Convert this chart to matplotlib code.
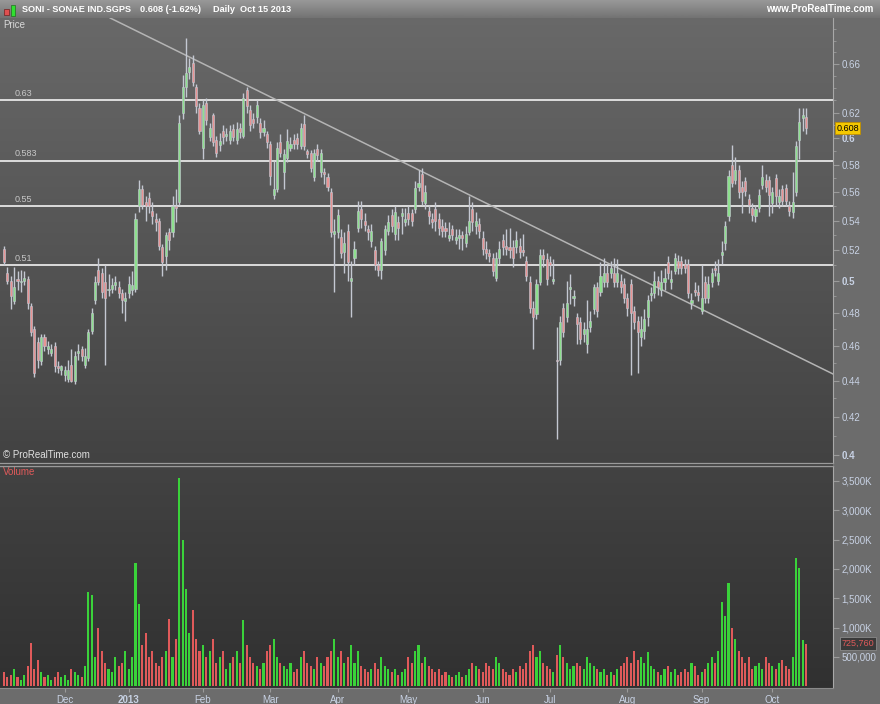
import matplotlib
matplotlib.use("Agg")
import matplotlib.pyplot as plt
import matplotlib.patches as mpatches
import numpy as np
import pandas as pd

plt.rcParams['font.family'] = ['Liberation Sans', 'DejaVu Sans']

# daily OHLC, SONAE IND.SGPS, Nov 7 2012 - Oct 15 2013
opens = [0.521, 0.505, 0.500, 0.487, 0.501, 0.499, 0.500, 0.501, 0.484, 0.470,
         0.462, 0.451, 0.465, 0.458, 0.456, 0.460, 0.448, 0.446, 0.443, 0.441,
         0.449, 0.440, 0.456, 0.458, 0.449, 0.453, 0.469, 0.488, 0.507, 0.505,
         0.499, 0.494, 0.495, 0.497, 0.496, 0.492, 0.487, 0.492, 0.494, 0.495,
         0.550, 0.562, 0.553, 0.556, 0.547, 0.541, 0.540, 0.522, 0.516, 0.532,
         0.532, 0.550, 0.553, 0.620, 0.641, 0.653, 0.661, 0.641, 0.624, 0.593,
         0.628, 0.601, 0.618, 0.599, 0.595, 0.606, 0.602, 0.599, 0.607, 0.599,
         0.608, 0.602, 0.638, 0.622, 0.615, 0.617, 0.612, 0.605, 0.603, 0.596,
         0.558, 0.562, 0.597, 0.575, 0.585, 0.593, 0.599, 0.600, 0.594, 0.611,
         0.590, 0.589, 0.571, 0.592, 0.575, 0.575, 0.571, 0.560, 0.531, 0.532,
         0.529, 0.519, 0.533, 0.500, 0.515, 0.535, 0.548, 0.540, 0.534, 0.526,
         0.520, 0.510, 0.507, 0.520, 0.533, 0.544, 0.531, 0.539, 0.543, 0.539,
         0.545, 0.545, 0.548, 0.564, 0.573, 0.552, 0.547, 0.541, 0.548, 0.541,
         0.536, 0.535, 0.528, 0.534, 0.527, 0.528, 0.530, 0.525, 0.532, 0.548,
         0.536, 0.538, 0.528, 0.521, 0.518, 0.515, 0.502, 0.515, 0.527, 0.523,
         0.522, 0.522, 0.522, 0.523, 0.520, 0.513, 0.499, 0.483, 0.479, 0.499,
         0.517, 0.514, 0.512, 0.500, 0.452, 0.452, 0.483, 0.477, 0.495, 0.489,
         0.477, 0.474, 0.467, 0.461, 0.471, 0.482, 0.496, 0.493, 0.499, 0.505,
         0.505, 0.505, 0.499, 0.500, 0.498, 0.489, 0.498, 0.481, 0.475, 0.465,
         0.469, 0.477, 0.491, 0.492, 0.500, 0.494, 0.499, 0.512, 0.499, 0.506,
         0.513, 0.513, 0.511, 0.511, 0.486, 0.494, 0.493, 0.481, 0.499, 0.489,
         0.499, 0.508, 0.500, 0.517, 0.525, 0.543, 0.580, 0.569, 0.576, 0.564,
         0.568, 0.555, 0.549, 0.543, 0.549, 0.565, 0.569, 0.569, 0.552, 0.570,
         0.553, 0.562, 0.563, 0.550, 0.546, 0.560, 0.599, 0.616, 0.617]
highs = [0.523, 0.509, 0.503, 0.509, 0.506, 0.507, 0.506, 0.503, 0.486, 0.472,
         0.465, 0.467, 0.467, 0.463, 0.461, 0.462, 0.451, 0.449, 0.448, 0.452,
         0.458, 0.457, 0.461, 0.460, 0.459, 0.470, 0.483, 0.503, 0.515, 0.508,
         0.510, 0.504, 0.502, 0.503, 0.500, 0.495, 0.493, 0.503, 0.506, 0.545,
         0.569, 0.565, 0.557, 0.560, 0.553, 0.545, 0.542, 0.524, 0.532, 0.535,
         0.557, 0.562, 0.618, 0.651, 0.682, 0.665, 0.668, 0.643, 0.628, 0.630,
         0.632, 0.612, 0.620, 0.602, 0.604, 0.610, 0.608, 0.610, 0.611, 0.613,
         0.612, 0.636, 0.641, 0.626, 0.620, 0.630, 0.616, 0.614, 0.606, 0.598,
         0.583, 0.597, 0.603, 0.592, 0.607, 0.601, 0.603, 0.604, 0.612, 0.618,
         0.592, 0.591, 0.592, 0.596, 0.592, 0.578, 0.574, 0.563, 0.541, 0.548,
         0.534, 0.532, 0.538, 0.513, 0.526, 0.554, 0.554, 0.545, 0.537, 0.538,
         0.523, 0.513, 0.528, 0.537, 0.544, 0.548, 0.550, 0.543, 0.549, 0.549,
         0.550, 0.548, 0.568, 0.576, 0.578, 0.565, 0.551, 0.545, 0.553, 0.545,
         0.541, 0.539, 0.539, 0.537, 0.534, 0.534, 0.533, 0.536, 0.557, 0.553,
         0.546, 0.542, 0.533, 0.526, 0.521, 0.518, 0.519, 0.526, 0.531, 0.534,
         0.535, 0.527, 0.533, 0.528, 0.531, 0.516, 0.503, 0.487, 0.501, 0.521,
         0.521, 0.518, 0.516, 0.514, 0.471, 0.478, 0.486, 0.500, 0.504, 0.494,
         0.480, 0.477, 0.474, 0.488, 0.481, 0.498, 0.499, 0.512, 0.515, 0.511,
         0.513, 0.515, 0.514, 0.504, 0.502, 0.492, 0.501, 0.484, 0.478, 0.478,
         0.482, 0.491, 0.496, 0.506, 0.503, 0.507, 0.508, 0.516, 0.507, 0.518,
         0.517, 0.516, 0.514, 0.514, 0.492, 0.499, 0.497, 0.510, 0.503, 0.503,
         0.508, 0.513, 0.514, 0.526, 0.540, 0.576, 0.595, 0.586, 0.580, 0.568,
         0.571, 0.559, 0.552, 0.551, 0.562, 0.580, 0.573, 0.572, 0.564, 0.573,
         0.562, 0.565, 0.566, 0.554, 0.575, 0.598, 0.624, 0.624, 0.624]
lows = [0.510, 0.498, 0.482, 0.485, 0.494, 0.493, 0.497, 0.482, 0.466, 0.442,
        0.447, 0.449, 0.457, 0.455, 0.454, 0.445, 0.444, 0.443, 0.440, 0.439,
        0.439, 0.438, 0.452, 0.451, 0.447, 0.451, 0.467, 0.485, 0.497, 0.489,
        0.449, 0.490, 0.492, 0.494, 0.489, 0.480, 0.475, 0.489, 0.491, 0.493,
        0.546, 0.548, 0.540, 0.545, 0.538, 0.533, 0.520, 0.503, 0.507, 0.520,
        0.529, 0.539, 0.551, 0.615, 0.633, 0.647, 0.642, 0.620, 0.603, 0.584,
        0.610, 0.598, 0.594, 0.586, 0.590, 0.596, 0.598, 0.596, 0.598, 0.596,
        0.600, 0.600, 0.620, 0.606, 0.608, 0.612, 0.600, 0.602, 0.593, 0.565,
        0.555, 0.560, 0.586, 0.562, 0.582, 0.590, 0.592, 0.592, 0.592, 0.591,
        0.585, 0.575, 0.568, 0.583, 0.571, 0.566, 0.561, 0.529, 0.493, 0.528,
        0.515, 0.505, 0.500, 0.477, 0.510, 0.532, 0.535, 0.533, 0.527, 0.522,
        0.507, 0.503, 0.501, 0.517, 0.530, 0.532, 0.527, 0.527, 0.531, 0.536,
        0.537, 0.536, 0.545, 0.561, 0.551, 0.548, 0.538, 0.535, 0.533, 0.530,
        0.529, 0.529, 0.526, 0.527, 0.524, 0.521, 0.520, 0.522, 0.530, 0.533,
        0.531, 0.528, 0.517, 0.514, 0.512, 0.503, 0.500, 0.511, 0.517, 0.517,
        0.515, 0.509, 0.518, 0.515, 0.516, 0.500, 0.480, 0.458, 0.476, 0.497,
        0.509, 0.497, 0.503, 0.498, 0.408, 0.449, 0.465, 0.474, 0.485, 0.484,
        0.461, 0.461, 0.462, 0.456, 0.468, 0.479, 0.477, 0.490, 0.496, 0.496,
        0.502, 0.496, 0.496, 0.492, 0.486, 0.478, 0.443, 0.470, 0.444, 0.460,
        0.464, 0.472, 0.487, 0.489, 0.491, 0.490, 0.494, 0.501, 0.495, 0.504,
        0.504, 0.504, 0.505, 0.489, 0.482, 0.490, 0.487, 0.479, 0.486, 0.486,
        0.496, 0.503, 0.497, 0.511, 0.520, 0.540, 0.564, 0.566, 0.556, 0.545,
        0.557, 0.545, 0.540, 0.539, 0.546, 0.562, 0.560, 0.543, 0.545, 0.550,
        0.549, 0.550, 0.550, 0.543, 0.542, 0.557, 0.584, 0.606, 0.603]
closes = [0.512, 0.500, 0.490, 0.496, 0.500, 0.500, 0.502, 0.486, 0.468, 0.444,
          0.452, 0.465, 0.460, 0.460, 0.458, 0.448, 0.447, 0.448, 0.446, 0.446,
          0.440, 0.454, 0.457, 0.454, 0.454, 0.468, 0.480, 0.499, 0.499, 0.493,
          0.489, 0.495, 0.497, 0.499, 0.492, 0.488, 0.489, 0.498, 0.497, 0.541,
          0.562, 0.551, 0.550, 0.550, 0.543, 0.539, 0.523, 0.512, 0.530, 0.527,
          0.550, 0.549, 0.612, 0.641, 0.652, 0.657, 0.645, 0.625, 0.606, 0.626,
          0.614, 0.608, 0.597, 0.589, 0.598, 0.601, 0.603, 0.606, 0.601, 0.607,
          0.605, 0.632, 0.625, 0.610, 0.612, 0.626, 0.605, 0.608, 0.597, 0.572,
          0.562, 0.593, 0.589, 0.588, 0.598, 0.596, 0.596, 0.596, 0.608, 0.594,
          0.588, 0.578, 0.589, 0.587, 0.589, 0.573, 0.564, 0.532, 0.533, 0.544,
          0.518, 0.525, 0.512, 0.502, 0.521, 0.547, 0.541, 0.537, 0.532, 0.533,
          0.510, 0.507, 0.526, 0.534, 0.539, 0.536, 0.546, 0.535, 0.545, 0.541,
          0.541, 0.540, 0.563, 0.567, 0.554, 0.560, 0.543, 0.539, 0.540, 0.535,
          0.533, 0.533, 0.530, 0.530, 0.529, 0.530, 0.528, 0.531, 0.540, 0.539,
          0.540, 0.533, 0.521, 0.518, 0.516, 0.506, 0.515, 0.521, 0.522, 0.521,
          0.520, 0.515, 0.527, 0.519, 0.519, 0.503, 0.483, 0.477, 0.498, 0.517,
          0.514, 0.501, 0.510, 0.501, 0.451, 0.474, 0.468, 0.486, 0.496, 0.490,
          0.473, 0.464, 0.470, 0.470, 0.475, 0.496, 0.481, 0.503, 0.505, 0.499,
          0.508, 0.499, 0.505, 0.496, 0.489, 0.483, 0.480, 0.474, 0.468, 0.470,
          0.476, 0.488, 0.492, 0.500, 0.496, 0.499, 0.502, 0.505, 0.501, 0.515,
          0.508, 0.508, 0.508, 0.492, 0.488, 0.493, 0.491, 0.489, 0.489, 0.498,
          0.505, 0.507, 0.505, 0.519, 0.536, 0.572, 0.567, 0.576, 0.560, 0.560,
          0.561, 0.551, 0.544, 0.548, 0.558, 0.571, 0.564, 0.558, 0.560, 0.557,
          0.557, 0.554, 0.554, 0.547, 0.553, 0.594, 0.613, 0.618, 0.608]
# volume in thousands of shares
volumes = [250, 150, 200, 300, 150, 100, 200, 350, 730, 300,
           450, 250, 150, 200, 100, 150, 250, 150, 200, 100,
           300, 250, 200, 150, 350, 1600, 1550, 500, 1000, 600,
           400, 300, 250, 500, 350, 400, 600, 300, 500, 2100,
           1400, 700, 900, 500, 600, 400, 350, 500, 600, 1150,
           500, 800, 3550, 2500, 1650, 900, 1300, 800, 600, 700,
           500, 600, 800, 400, 500, 600, 300, 400, 500, 600,
           400, 1130, 700, 500, 400, 350, 300, 400, 600, 700,
           800, 500, 400, 350, 300, 400, 250, 300, 500, 600,
           400, 350, 300, 500, 400, 350, 500, 600, 800, 500,
           600, 400, 500, 700, 400, 600, 350, 300, 250, 300,
           400, 300, 500, 350, 300, 250, 300, 200, 250, 300,
           500, 400, 600, 700, 400, 500, 350, 300, 250, 300,
           200, 250, 200, 150, 200, 250, 150, 200, 300, 400,
           350, 300, 250, 400, 350, 300, 500, 400, 300, 250,
           200, 300, 250, 350, 300, 400, 600, 700, 500, 600,
           400, 350, 300, 250, 530, 700, 500, 400, 300, 350,
           400, 350, 300, 500, 400, 350, 300, 250, 300, 200,
           250, 200, 300, 350, 400, 500, 400, 600, 450, 500,
           400, 580, 350, 300, 250, 200, 300, 350, 250, 300,
           200, 250, 300, 250, 400, 350, 200, 250, 300, 400,
           500, 400, 600, 1430, 1200, 1760, 1000, 800, 600, 500,
           400, 500, 300, 350, 400, 300, 500, 400, 350, 300,
           400, 450, 350, 300, 500, 2180, 2010, 780, 725.76]

holidays = ["2012-12-25", "2012-12-26", "2013-01-01", "2013-03-29",
            "2013-04-01", "2013-05-01"]
levels = [0.63, 0.583, 0.55, 0.51]
level_labels = ["0.63", "0.583", "0.55", "0.51"]
trend_x = [31.5, 246.0]          # bar index
trend_y = [0.700, 0.4437]        # price
price_ticks = [0.4, 0.42, 0.44, 0.46, 0.48, 0.5, 0.52, 0.54, 0.56, 0.58, 0.6, 0.62, 0.66]
vol_ticks = [500, 1000, 1500, 2000, 2500, 3000, 3500]
vol_tick_labels = ["500,000", "1,000K", "1,500K", "2,000K", "2,500K", "3,000K", "3,500K"]

dates = pd.bdate_range("2012-11-07", "2013-10-15")
dates = dates[~dates.isin(pd.to_datetime(holidays))]
n = len(closes)
x = np.arange(n)
o = np.array(opens); h = np.array(highs); l = np.array(lows); c = np.array(closes)
v = np.array(volumes) * 1000
up = c >= o

W, H = 880, 704
fig = plt.figure(figsize=(W / 100, H / 100), dpi=100)
fig.patch.set_facecolor("#6c6c6c")

def px(x0, y0, x1, y1):
    return [x0 / W, 1 - y1 / H, (x1 - x0) / W, (y1 - y0) / H]

def gradient(rect, top, bottom, z=-5):
    bg = fig.add_axes(rect, zorder=z)
    g = np.linspace(0, 1, 256)
    img = np.empty((256, 1, 3))
    for k in range(3):
        img[:, 0, k] = top[k] + (bottom[k] - top[k]) * g
    bg.imshow(img, aspect="auto", extent=[0, 1, 0, 1])
    bg.set_axis_off()
    return bg

# header bar
gradient(px(0, 0, 880, 18), (0.60, 0.60, 0.60), (0.45, 0.45, 0.45))
hy = 1 - 9.5 / H
fig.text(22 / W, hy, "SONI - SONAE IND.SGPS", color="white", fontsize=6.6, fontweight="bold", va="center")
fig.text(140 / W, hy, "0.608 (-1.62%)", color="white", fontsize=6.6, fontweight="bold", va="center")
fig.text(213 / W, hy, "Daily  Oct 15 2013", color="white", fontsize=6.6, fontweight="bold", va="center")
fig.text(873 / W, hy, "www.ProRealTime.com", color="white", fontsize=7, fontweight="bold",
         va="center", ha="right")
fig.patches.append(mpatches.Rectangle((4 / W, 1 - 15 / H), 5 / W, 6 / H, transform=fig.transFigure,
                                      facecolor="#e05050", edgecolor="#702020", lw=0.5))
fig.patches.append(mpatches.Rectangle((11 / W, 1 - 16 / H), 4 / W, 11 / H, transform=fig.transFigure,
                                      facecolor="#30e030", edgecolor="#207020", lw=0.5))

price_rect = px(0, 18, 833, 462)
vol_rect = px(0, 466, 833, 688)
gradient(price_rect, (0.41, 0.41, 0.41), (0.26, 0.26, 0.26))
gradient(vol_rect, (0.26, 0.26, 0.26), (0.19, 0.19, 0.19))
fig.patches.append(mpatches.Rectangle((0, 1 - 466 / H), 833 / W, 4 / H, transform=fig.transFigure,
                                      facecolor="#3a3a3a", edgecolor="none"))
fig.lines.append(plt.Line2D([0, 833 / W], [1 - 462.5 / H] * 2, transform=fig.transFigure, color="#9a9a9a", lw=1))
fig.lines.append(plt.Line2D([0, 833 / W], [1 - 465.5 / H] * 2, transform=fig.transFigure, color="#9a9a9a", lw=1))

# price panel
ax = fig.add_axes(price_rect, zorder=1)
ax.set_facecolor("none")
ax.set_yscale("log")
ax.set_xlim(-1.2, 246)
ax.set_ylim(0.3964, 0.700)

for lev, lab in zip(levels, level_labels):
    ax.axhline(lev, color="#e6e6e6", lw=1.3, zorder=2)
    ax.text(3, lev * 1.003, lab, color="#c8c8c8", fontsize=6.5, va="bottom", ha="left")
ax.plot(trend_x, trend_y, color="#b4b4b4", lw=1.1, zorder=2, clip_on=True)

wick_col = "#c4c8d2"
ax.vlines(x, l, h, color=wick_col, lw=1.0, zorder=3)
bot = np.minimum(o, c)
hgt = np.maximum(np.abs(c - o), 0.0008)
ax.bar(x[up], hgt[up], bottom=bot[up], width=0.62, color="#8ee08e", edgecolor=wick_col, lw=0.4, zorder=4)
ax.bar(x[~up], hgt[~up], bottom=bot[~up], width=0.62, color="#e89494", edgecolor=wick_col, lw=0.4, zorder=4)

ax.yaxis.tick_right()
ax.set_yticks(price_ticks)
ax.set_yticklabels([f"{t:g}" for t in price_ticks])
ax.yaxis.set_minor_locator(matplotlib.ticker.FixedLocator(np.arange(0.39, 0.70, 0.01)))
ax.yaxis.set_minor_formatter(matplotlib.ticker.NullFormatter())
ax.tick_params(axis="y", which="major", colors="#9a9a9a", labelcolor="#c8d2e4", length=4,
               labelsize=7, pad=2)
ax.tick_params(axis="y", which="minor", colors="#9a9a9a", length=2)
for t in ax.get_yticklabels():
    if t.get_text() in ("0.4", "0.5", "0.6"):
        t.set_fontweight("bold")
ax.set_xticks([])
for s in ["top", "left", "bottom"]:
    ax.spines[s].set_visible(False)
ax.spines["right"].set_color("#a8a8a8")
ax.text(0.004, 0.995, "Price", transform=ax.transAxes, color="#d8d8d8", fontsize=7, va="top", ha="left")
ax.text(0.004, 0.005, "© ProRealTime.com", transform=ax.transAxes, color="#e0e0e0", fontsize=7,
        va="bottom", ha="left")
ax.text(1.004, closes[-1], f"{closes[-1]:.3f}", transform=ax.get_yaxis_transform(), color="black",
        fontsize=6.5, va="center", ha="left", zorder=10,
        bbox=dict(boxstyle="square,pad=0.15", facecolor="#f4c800", edgecolor="#c09000", lw=0.6),
        clip_on=False)

# volume panel
axv = fig.add_axes(vol_rect, zorder=1)
axv.set_facecolor("none")
axv.set_xlim(-1.2, 246)
axv.set_ylim(-30000, 3755000)
axv.bar(x[up], v[up], width=0.62, color="#3ad23a", zorder=3)
axv.bar(x[~up], v[~up], width=0.62, color="#e05a5a", zorder=3)
axv.yaxis.tick_right()
axv.set_yticks([t * 1000 for t in vol_ticks])
axv.set_yticklabels(vol_tick_labels)
axv.tick_params(axis="y", colors="#9a9a9a", labelcolor="#c8d2e4", length=4, labelsize=7, pad=2)
axv.text(1.01, v[-1], f"{volumes[-1] * 1000:,.0f}", transform=axv.get_yaxis_transform(), color="#e05a5a",
         fontsize=6.5, va="center", ha="left", zorder=10, clip_on=False,
         bbox=dict(boxstyle="square,pad=0.2", facecolor="#3a3a3a", edgecolor="#8a8a8a", lw=0.6))
axv.text(0.004, 0.995, "Volume", transform=axv.transAxes, color="#e05a5a", fontsize=7, va="top", ha="left")

month_starts = [i for i in range(1, n) if dates[i].month != dates[i - 1].month]
month_labels = [("2013" if dates[i].month == 1 else dates[i].strftime("%b")) for i in month_starts]
axv.set_xticks(month_starts)
axv.set_xticklabels(month_labels)
axv.tick_params(axis="x", colors="#9a9a9a", labelcolor="#c8d2e4", length=3, labelsize=7, pad=2)
for t in axv.get_xticklabels():
    if t.get_text() == "2013":
        t.set_fontweight("bold")
for s in ["top", "left"]:
    axv.spines[s].set_visible(False)
axv.spines["right"].set_color("#a8a8a8")
axv.spines["bottom"].set_color("#8a8a8a")

fig.savefig("out.png", dpi=100, facecolor=fig.get_facecolor())
